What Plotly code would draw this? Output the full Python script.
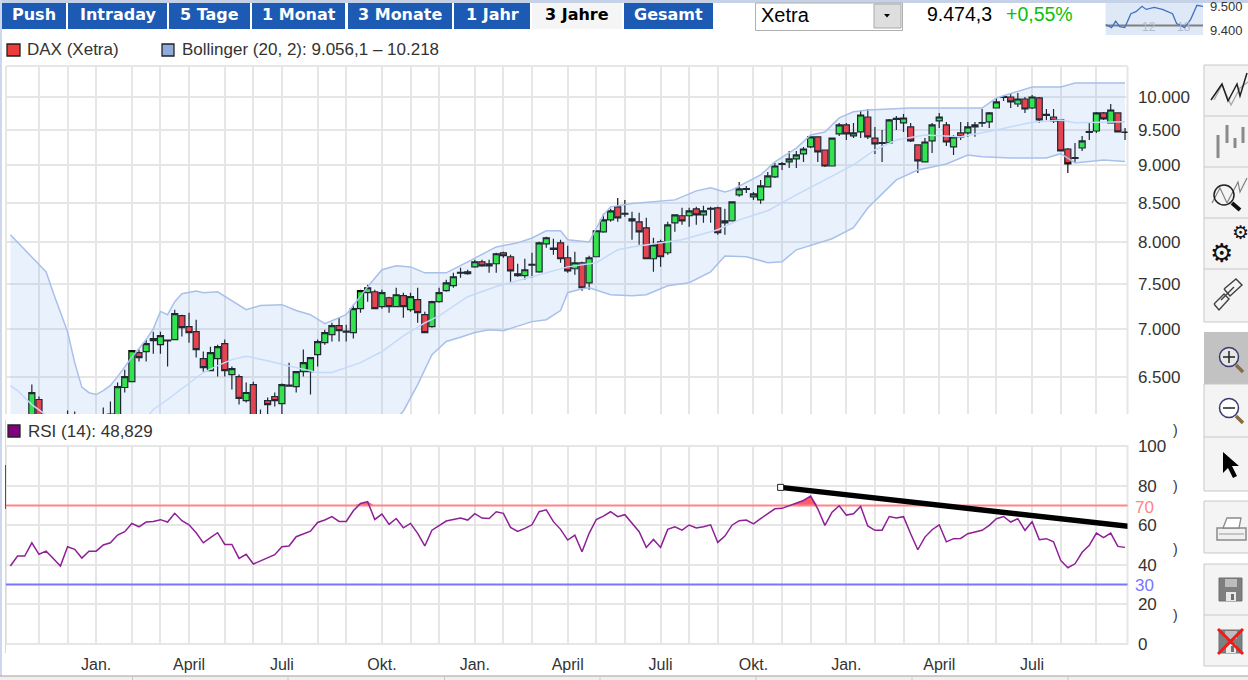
import math
import plotly.graph_objects as go

W, H = 1248, 680

# ---------- data ----------
opens = [5900,5980,6030,6040,6279,6000,6060,6020,5960,6100,6060,6000,6050,6080,6120,6130,6396,6454,6749,6759,
         6896,6832,6870,6885,7143,7023,6970,6686,6564,6686,6843,6524,6504,6269,6425,6040,6269,6308,6240,6410,
         6405,6554,6554,6728,6853,6938,7034,6965,6959,7220,7400,7411,7243,7343,7243,7366,7209,7321,7154,7023,
         7299,7423,7480,7625,7642,7701,7761,7737,7737,7869,7821,7619,7596,7720,7642,7978,7910,7990,7809,7678,
         7749,7514,7821,8127,8278,8445,8350,8291,8253,8177,7797,8003,7869,8240,8330,8330,8419,8342,8415,8432,
         8240,8265,8602,8676,8576,8536,8708,8843,9015,9049,9091,9161,9260,9405,9217,8993,9447,9579,9419,9476,
         9697,9388,9312,9317,9660,9609,9550,9289,9049,9346,9638,9579,9260,9462,9462,9550,9604,9624,9832,9995,
         10000,9893,9969,9832,9985,9735,9697,9653,9231,9100,9245,9470,9490,9757,9609,9757,9470]
highs = [6010,6060,6090,6425,6308,6090,6120,6090,6173,6164,6120,6100,6120,6203,6260,6445,6574,6770,6780,6885,
         6970,6970,6885,7209,7154,7176,7099,6759,6811,6832,6885,6605,6524,6445,6454,6183,6298,6347,6435,6645,
         6554,6780,6697,6885,6991,7066,7121,7045,7265,7434,7491,7434,7434,7355,7457,7400,7400,7457,7187,7310,
         7457,7549,7630,7690,7666,7785,7785,7785,7869,7881,7845,7737,7797,7869,8003,8065,8040,8028,7954,7881,
         7761,7833,8140,8355,8419,8562,8536,8381,8368,8304,8053,8028,8253,8342,8432,8432,8445,8458,8445,8445,
         8419,8510,8775,8721,8641,8802,8911,9035,9049,9203,9203,9260,9405,9405,9217,9388,9609,9609,9609,9787,
         9817,9550,9505,9668,9712,9742,9609,9289,9388,9609,9757,9624,9433,9624,9624,9624,9817,9772,9985,10031,
         10046,10062,10000,10031,10000,9817,9817,9668,9245,9317,9419,9624,9772,9772,9894,9757,9535]
lows = [5860,5930,5960,6000,5950,5950,5980,5940,5920,6020,5970,5960,6000,6040,6060,6100,6347,6454,6656,6656,
        6738,6738,6605,6885,6917,6853,6697,6554,6564,6504,6504,6376,6230,6250,6000,5980,6115,6212,6090,6405,
        6347,6504,6327,6605,6832,6864,6864,6864,6896,7176,7299,7220,7220,7176,7243,7121,7187,7066,6959,7012,
        7287,7411,7457,7572,7607,7690,7701,7630,7630,7809,7526,7584,7549,7572,7630,7929,7845,7749,7630,7607,
        7423,7434,7821,8115,8253,8253,8317,8028,7966,7797,7642,7701,7845,8127,8215,8190,8215,8240,8240,8090,
        8090,8265,8576,8628,8536,8484,8708,8829,8938,8965,8965,9049,9245,9049,8980,8993,9419,9360,9388,9388,
        9374,9161,9049,9317,9505,9476,9331,8897,9049,9175,9535,9274,9147,9360,9405,9405,9550,9535,9832,9938,
        9832,9847,9757,9817,9609,9653,9609,9203,8897,9035,9203,9360,9462,9653,9609,9476,9360]
closes = [5980,6030,5990,6345,6000,6060,6020,5960,6100,6060,6000,6050,6080,6120,6140,6405,6504,6770,6697,6843,
          6875,6927,6880,7165,7012,6959,6780,6594,6749,6811,6564,6584,6289,6347,6040,6100,6230,6269,6425,6420,
          6554,6645,6697,6864,6959,7034,6980,6975,7220,7423,7457,7220,7400,7243,7377,7243,7355,7176,6959,7299,
          7400,7514,7584,7635,7619,7761,7713,7713,7857,7833,7654,7596,7666,7730,7990,8053,7925,7797,7654,7749,
          7457,7809,8140,8278,8394,8304,8360,8265,8127,7797,7966,7821,8215,8342,8265,8394,8342,8394,8425,8115,
          8265,8510,8681,8686,8615,8721,8856,8993,9025,9091,9147,9231,9405,9189,8993,9388,9579,9447,9462,9727,
          9405,9303,9322,9653,9675,9682,9346,9063,9331,9579,9697,9331,9405,9405,9550,9579,9614,9757,9924,10005,
          9924,9969,9817,10000,9653,9720,9638,9203,9021,9110,9346,9480,9757,9668,9802,9476,9474]

upper_week = [0,3,5,6,8,9,10,11,12,13,14,15,17,19,20,21,22,23,24,26,27,29,31,33,35,38,40,42,44,45,47,50,52,54,56,58,
              61,64,68,71,73,75,77,78,81,83,84,87,90,93,96,98,100,101,103,105,107,110,112,114,116,118,120,126,134,
              136,138,143,147,149,156]
upper_band = [8090,7820,7640,7400,6970,6645,6400,6345,6327,6366,6417,6504,6700,6885,7000,7190,7154,7299,7388,7420,7400,
              7410,7310,7210,7255,7265,7200,7154,7056,7088,7154,7468,7666,7713,7700,7630,7630,7760,7940,7990,8050,
              8140,8140,8028,8000,8342,8445,8490,8510,8536,8655,8695,8640,8668,8770,8870,9050,9243,9433,9475,9683,
              9775,9802,9832,9832,9832,9985,10155,10155,10217,10218]
lower_week = [0,30,50,54,55,57,59,61,63,65,67,69,73,75,77,78,80,81,84,87,89,92,95,98,100,103,106,108,110,113,115,118,
              120,122,124,127,131,134,136,140,145,147,149,153,156]
lower_band = [5000,5200,5700,6100,6167,6425,6728,6865,6910,6960,6991,6980,7078,7099,7200,7400,7445,7457,7377,7366,7377,
              7480,7515,7642,7830,7820,7750,7760,7905,7985,8040,8178,8430,8615,8802,8938,9020,9147,9120,9105,9105,
              9165,9035,9077,9056]
middle_week = [0,1,3,5,10,15,19,20,22,25,27,29,31,33,36,39,43,45,49,52,55,58,60,64,68,73,78,82,85,87,91,94,99,102,106,
               110,114,118,121,124,128,133,138,143,147,149,156]
middle_band = [6415,6366,6230,6130,6050,6050,6100,6183,6279,6435,6545,6615,6676,6710,6665,6610,6545,6545,6645,6760,
               6925,7065,7140,7355,7470,7585,7700,7750,7905,7940,7990,8028,8152,8278,8395,8602,8802,9007,9217,9360,
               9433,9405,9505,9620,9653,9610,9625]

rsi = [39.4,44.4,44.4,51.1,45.3,46.9,43.2,39.4,49.1,47.8,43.4,46.9,46.9,50,51.1,55,56.7,60.9,59.2,61.6,
       61.9,62.8,61.6,66,62.3,60.2,56.2,51.1,53.7,56.2,50.3,50.3,43.2,45.3,40.4,42,43.6,45.1,49.1,49.5,
       54.2,55.5,57,61.4,62.6,64.3,61.9,61.9,67.3,71,71.9,62.9,65.6,60.4,63.4,58.7,60.9,55.9,49.5,57.5,
       59.6,62.1,62.9,63.6,62.6,65.8,63.6,63.4,66.8,66,58.9,56.9,58.4,60.2,66.8,67.8,61.8,57.9,52.5,55,
       46.6,55.9,62.9,64.6,66.8,64.3,65.3,61.2,56.7,48.8,52.8,48.8,57.9,59.2,57.5,60.1,58.6,59.2,60.2,51.3,
       54.5,60,62.3,62.6,60.7,63.3,65.8,68.3,68.5,69.8,71.3,72.5,74.7,68.3,59.9,66.6,69.8,65.1,65.8,69.5,
       59.6,57.4,57.5,64.4,63.6,64.3,55.7,47.6,54,57.7,60.2,51.6,53.2,53.3,55.7,56.7,57.4,59.9,63.3,64.4,
       61.6,63.3,57.4,61.8,52.7,53.2,51.6,42.2,38.5,40.5,46.3,49.8,56,53.7,56,49.3,48.8]

rsi_over, rsi_under = 70, 30
trend_week = [107.8, 157.2]
trend_rsi = [79.1, 59.1]

month_weeks = [4,8,12,17,21,25,30,34,38,43,47,52,56,60,65,69,73,78,82,86,91,95,99,104,108,112,117,121,125,130,134,138,
               143,147,152]
month_labels = {12:"Jan.",25:"April",38:"Juli",52:"Okt.",65:"Jan.",78:"April",91:"Juli",104:"Okt.",117:"Jan.",
                130:"April",143:"Juli"}
price_ticks = [6500,7000,7500,8000,8500,9000,9500,10000]
price_labels = ["6.500","7.000","7.500","8.000","8.500","9.000","9.500","10.000"]
rsi_ticks = [0,20,40,60,80,100]

mini_time = [0,6,10,14,19,25,30,36,40,48,56,66,70,78,84,90,96]
mini_price = [9433,9421,9446,9425,9421,9475,9483,9504,9492,9500,9492,9475,9437,9421,9454,9508,9504]
mini_prev = [9429,9429]
mini_span = [0,96]

nav_labels = ["Push","Intraday","5 Tage","1 Monat","3 Monate","1 Jahr","3 Jahre","Gesamt"]
nav_edges = [(2,66),(68,167),(169,250),(252,345),(348,452),(454,530),(532,622),(624,713)]

assert all(len(a)==157 for a in (opens,highs,lows,closes,rsi))
weeks = list(range(157))

# ---------- helpers ----------
def px(x): return x/W
def py(y): return 1-y/H
shapes, notes = [], []

def rect(x0,y0,x1,y1,fill=None,line=None,lw=1,layer="below"):
    shapes.append(dict(type="rect",xref="paper",yref="paper",x0=px(x0),x1=px(x1),y0=py(y0),y1=py(y1),
                       fillcolor=fill,line=dict(color=line or "rgba(0,0,0,0)",width=lw if line else 0),layer=layer))
def seg(x0,y0,x1,y1,color,lw=1,layer="above"):
    shapes.append(dict(type="line",xref="paper",yref="paper",x0=px(x0),x1=px(x1),y0=py(y0),y1=py(y1),
                       line=dict(color=color,width=lw),layer=layer))
def poly(pts,color=None,lw=1,fill=None,close=False):
    d="M "+" L ".join(f"{px(a):.5f},{py(b):.5f}" for a,b in pts)+(" Z" if close else "")
    shapes.append(dict(type="path",xref="paper",yref="paper",path=d,fillcolor=fill,
                       line=dict(color=color or "rgba(0,0,0,0)",width=lw if color else 0),layer="above"))
def circle(cx,cy,r,color,lw=1.5,fill=None):
    shapes.append(dict(type="circle",xref="paper",yref="paper",x0=px(cx-r),x1=px(cx+r),y0=py(cy+r),y1=py(cy-r),
                       fillcolor=fill,line=dict(color=color,width=lw),layer="above"))
def note(x,y,text,size=17,color="#333333",anchor="left",bold=False,family="Liberation Sans"):
    t=f"<b>{text}</b>" if bold else text
    notes.append(dict(xref="paper",yref="paper",x=px(x),y=py(y),text=t,showarrow=False,xanchor=anchor,yanchor="middle",
                      font=dict(size=size,color=color,family=family),borderpad=0,borderwidth=0))

# ---------- traces ----------
fig = go.Figure()
fig.add_trace(go.Scatter(x=lower_week,y=lower_band,mode="lines",line=dict(color="#a8c0ea",width=1.5),hoverinfo="skip"))
fig.add_trace(go.Scatter(x=upper_week,y=upper_band,mode="lines",line=dict(color="#a8c0ea",width=1.5),hoverinfo="skip",
                         fill="tonexty",fillcolor="rgba(120,165,240,0.16)"))
fig.add_trace(go.Scatter(x=middle_week,y=middle_band,mode="lines",line=dict(color="#c4dafa",width=1.5),hoverinfo="skip"))
fig.add_trace(go.Candlestick(x=weeks,open=opens,high=highs,low=lows,close=closes,whiskerwidth=0,
    increasing=dict(fillcolor="#25ee30",line=dict(color="#101010",width=1.2)),
    decreasing=dict(fillcolor="#fa3232",line=dict(color="#101010",width=1.2))))

fig.add_trace(go.Scatter(x=weeks,y=[rsi_over]*157,xaxis="x2",yaxis="y2",mode="lines",line=dict(width=0),hoverinfo="skip"))
fig.add_trace(go.Scatter(x=weeks,y=[max(v,rsi_over) for v in rsi],xaxis="x2",yaxis="y2",mode="lines",line=dict(width=0),
                         fill="tonexty",fillcolor="#ff5a6e",hoverinfo="skip"))
fig.add_trace(go.Scatter(x=[-1,weeks[-1]+1],y=[rsi_over,rsi_over],xaxis="x2",yaxis="y2",mode="lines",
                         line=dict(color="#ff8484",width=2)))
fig.add_trace(go.Scatter(x=[-1,weeks[-1]+1],y=[rsi_under,rsi_under],xaxis="x2",yaxis="y2",mode="lines",
                         line=dict(color="#7676ff",width=2)))
fig.add_trace(go.Scatter(x=weeks,y=rsi,xaxis="x2",yaxis="y2",mode="lines",line=dict(color="#8e1f96",width=1.5)))
fig.add_trace(go.Scatter(x=trend_week,y=trend_rsi,xaxis="x2",yaxis="y2",mode="lines+markers",cliponaxis=False,
                         line=dict(color="#000000",width=5.5),
                         marker=dict(symbol="square",size=6,color="white",line=dict(color="#222222",width=1))))

fig.add_trace(go.Scatter(x=mini_span,y=mini_prev,xaxis="x3",yaxis="y3",mode="lines",line=dict(color="#808080",width=2)))
fig.add_trace(go.Scatter(x=mini_time,y=mini_price,xaxis="x3",yaxis="y3",mode="lines",line=dict(color="#3f72c4",width=1.3)))

# ---------- page furniture ----------
rect(0,0,W,3,fill="#c5d1e6")
rect(0,0,2,676,fill="#cdd8ec")
rect(0,676,W,680,fill="#f3efee")
seg(0,676,W,676,"#a0a0a0",1)
for xb in (132.5,288,444.5,600,756,912,1068):
    seg(xb,677,xb,680,"#c8c8c8",1)

for lab,(a,b) in zip(nav_labels,nav_edges):
    active = lab=="3 Jahre"
    rect(a,3,b,29,fill="#f5f5f5" if active else "#1c5ab4")
    note((a+b)/2,14.5,lab,size=16,color="#000000" if active else "#ffffff",anchor="center",bold=True,family="DejaVu Sans")

rect(755.5,3,902.5,30.5,fill="#ffffff",line="#b0b0b0")
note(761,15,"Xetra",size=20,color="#000000")
rect(874,4,901,28,fill="#dedede",line="#a8a8a8")
poly([(884,14),(890,14),(887,17.5)],fill="#000000",close=True)
note(927,14,"9.474,3",size=19.5,color="#000000")
note(1006,14,"+0,55%",size=19.5,color="#0cbf0c")

rect(1105.5,3,1203,35,fill="#dfe8f7")
note(1142,27,"12",size=12,color="#b3bccb")
note(1177,27,"13",size=12,color="#b3bccb")
note(1210,7,"9.500",size=13,color="#333333")
note(1210,31,"9.400",size=13,color="#333333")

# legends
rect(7,44,20,56,fill="#ee3b3b",line="#222222",lw=1.3)
note(27,50,"DAX (Xetra)")
rect(162,44,174,56,fill="#8fabdc",line="#222222",lw=1.3)
note(182,50,"Bollinger (20, 2): 9.056,1 \u2013 10.218")
rect(8,425,20,437,fill="#800080",line="#222222",lw=1.3)
note(28,431,"RSI (14): 48,829")

# panel frames (upper panel is cut off by the RSI panel: no bottom edge)
seg(6,66,1127.5,66,"#e6e6e6",2,layer="below")
seg(6,66,6,414,"#e6e6e6",2,layer="below")
seg(1127.5,66,1127.5,414,"#e6e6e6",2,layer="below")
rect(6,446,1127.5,644,line="#e6e6e6",lw=2)
seg(5.5,420,5.5,653,"#d8d8d8",1,layer="below")
seg(5.5,465,5.5,509,"#555555",1)

note(1135,507,"70",color="#ff8484")
note(1135,585,"30",color="#7676ff")
for yy in (430,486,549,615):
    note(1173,yy,")",size=14,color="#333333")

# toolbar
rect(1204,65,W+2,322,fill="#f4f4f4",line="#c8c8c8")
for yy in (116,167,218,269):
    seg(1204,yy,W,yy,"#c8c8c8",1)
rect(1204,332,W+2,384,fill="#c2c2c2")
rect(1204,384,W+2,491,fill="#f4f4f4",line="#c8c8c8")
seg(1204,437,W,437,"#c8c8c8",1)
rect(1204,501,W+2,553,fill="#f4f4f4",line="#c8c8c8")
rect(1204,564,W+2,666,fill="#f4f4f4",line="#c8c8c8")
seg(1204,615,W,615,"#c8c8c8",1)

poly([(1214,100),(1222,85),(1231,105),(1240,88),(1248,82)],color="#a8a8a8",lw=1.3)
poly([(1211,100),(1222,84),(1228,101),(1237,84),(1240,96),(1247,73)],color="#202020",lw=1.5)
for xb,t,b in ((1218,135,158),(1227,125,143),(1235,138,148),(1243,127,143)):
    seg(xb,t,xb,b,"#8a8a8a",3)
poly([(1212,203),(1220,188),(1227,203),(1238,182),(1240,192),(1247,178)],color="#808080",lw=1.2)
circle(1224,195,10,"#202020",1.5)
seg(1232,203,1240,210,"#111111",4)
note(1221,253,"\u2699",size=26,color="#111111",anchor="center",bold=True,family="DejaVu Sans")
note(1240,232,"\u2699",size=19,color="#111111",anchor="center",bold=True,family="DejaVu Sans")
poly([(1214,304),(1224,294),(1229,299),(1219,310),(1214,304)],color="#404040",lw=1.4)
poly([(1224,289),(1236,279),(1242,285),(1230,296),(1224,289)],color="#404040",lw=1.4)
seg(1221,300,1234,287,"#404040",1.4)
# zoom buttons
for cy,plus in ((357,True),(408,False)):
    circle(1229,cy,9.5,"#3a3a70",1.5,fill="#ffffff" if not plus else "#e6e6e6")
    seg(1223,cy,1235,cy,"#222222",1.5)
    if plus: seg(1229,cy-6,1229,cy+6,"#222222",1.5)
    seg(1236,cy+8,1243,cy+15,"#8a6a40",3.5)
poly([(1223,452),(1223,473),(1228,468),(1233,478),(1237,476),(1232,466),(1239,466)],fill="#000000",close=True)
# printer
rect(1217,528,1246,540,fill="#f0f0f0",line="#8a8a8a",lw=1.5,layer="above")
poly([(1223,528),(1227,518),(1241,518),(1239,528)],color="#8a8a8a",lw=1.3,fill="#ffffff",close=True)
seg(1219,534,1244,534,"#9a9a9a",1)
# disks
for top in (578,630):
    rect(1219,top,1242,top+23,fill="#7f7f7f",line="#707070",lw=1,layer="above")
    rect(1225,top+1,1237,top+9,fill="#bdbdbd",layer="above")
    rect(1226,top+14,1236,top+23,fill="#e8e8e8",layer="above")
    rect(1231,top+16,1234,top+22,fill="#707070",layer="above")
seg(1218,629,1243,654,"#ee1c1c",3)
seg(1243,629,1218,654,"#ee1c1c",3)

# ---------- layout ----------
x_range = [-0.616, 156.35]
x_dom = [px(6), px(1127.5)]
grid = "#e6e6e6"
common_x = dict(range=x_range,domain=x_dom,tickmode="array",tickvals=month_weeks,showgrid=True,gridcolor=grid,gridwidth=2,
                zeroline=False,showline=False)
fig.update_layout(
    width=W,height=H,margin=dict(l=0,r=0,t=0,b=0,pad=0,autoexpand=False),paper_bgcolor="#ffffff",plot_bgcolor="rgba(0,0,0,0)",
    showlegend=False,shapes=shapes,annotations=notes,boxgap=0.08,boxgroupgap=0.08,
    xaxis=dict(common_x,anchor="y",showticklabels=False,ticks="",rangeslider=dict(visible=False)),
    yaxis=dict(type="log",range=[3.7882,4.0207],domain=[py(414),py(66)],side="right",anchor="x",
               tickmode="array",tickvals=price_ticks,ticktext=price_labels,showgrid=True,gridcolor=grid,gridwidth=2,
               zeroline=False,showline=False,ticks="outside",ticklen=6,tickcolor="rgba(0,0,0,0)",
               tickfont=dict(size=17,color="#333333",family="Liberation Sans")),
    xaxis2=dict(common_x,anchor="y2",ticktext=[month_labels.get(m,"") for m in month_weeks],ticks="outside",ticklen=6,
                tickcolor="rgba(0,0,0,0)",tickfont=dict(size=16,color="#333333",family="Liberation Sans"),tickangle=0),
    yaxis2=dict(range=[0,100],domain=[py(644),py(446)],side="right",anchor="x2",tickmode="array",tickvals=rsi_ticks,
                showgrid=True,gridcolor=grid,gridwidth=2,zeroline=False,showline=False,ticks="outside",ticklen=6,
                tickcolor="rgba(0,0,0,0)",tickfont=dict(size=17,color="#333333",family="Liberation Sans")),
    xaxis3=dict(range=[0,96],domain=[px(1105.5),px(1203)],anchor="y3",visible=False),
    yaxis3=dict(range=[9392,9517],domain=[py(35),py(3)],anchor="x3",visible=False),
)
fig.write_html("out.html",config={"displayModeBar":False},
               post_script="document.body.style.margin='0';document.documentElement.style.overflow='hidden';")
